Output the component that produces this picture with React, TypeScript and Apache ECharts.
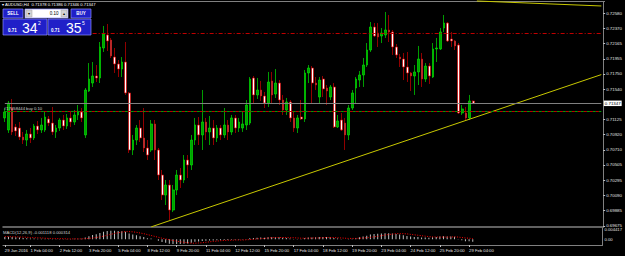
import React, { useEffect, useRef } from 'react';
import * as echarts from 'echarts';

// [open, close, low, high] for each H4 bar
const candles: number[][] = [
  [0.71147, 0.71229, 0.71092, 0.71283],
  [0.70983, 0.71351, 0.70942, 0.71379],
  [0.71283, 0.70956, 0.70915, 0.71406],
  [0.71024, 0.70969, 0.70901, 0.71065],
  [0.71010, 0.70887, 0.70846, 0.71092],
  [0.70887, 0.70846, 0.70792, 0.70956],
  [0.70846, 0.70928, 0.70764, 0.70983],
  [0.70928, 0.70874, 0.70805, 0.71010],
  [0.70874, 0.71037, 0.70846, 0.71065],
  [0.71037, 0.70983, 0.70928, 0.71106],
  [0.70983, 0.71051, 0.70942, 0.71147],
  [0.70983, 0.71160, 0.70956, 0.71229],
  [0.71133, 0.71078, 0.71037, 0.71174],
  [0.71078, 0.70956, 0.70915, 0.71297],
  [0.70956, 0.71010, 0.70874, 0.71051],
  [0.71010, 0.71119, 0.70969, 0.71147],
  [0.71119, 0.71037, 0.70983, 0.71188],
  [0.71037, 0.71147, 0.70997, 0.71201],
  [0.71147, 0.71092, 0.71024, 0.71229],
  [0.71092, 0.71188, 0.71051, 0.71256],
  [0.71188, 0.71229, 0.71119, 0.71324],
  [0.71229, 0.71147, 0.71092, 0.71283],
  [0.70915, 0.71529, 0.70874, 0.71556],
  [0.71515, 0.71679, 0.71502, 0.71897],
  [0.71624, 0.71720, 0.71570, 0.71911],
  [0.71720, 0.71693, 0.71638, 0.71870],
  [0.71693, 0.72116, 0.71624, 0.72184],
  [0.72102, 0.72293, 0.72048, 0.72403],
  [0.72280, 0.72198, 0.72061, 0.72430],
  [0.72211, 0.71993, 0.71966, 0.72239],
  [0.71979, 0.71884, 0.71761, 0.72102],
  [0.71884, 0.71815, 0.71706, 0.71938],
  [0.71815, 0.71911, 0.71706, 0.71979],
  [0.71911, 0.71488, 0.71461, 0.72184],
  [0.71488, 0.70710, 0.70669, 0.71502],
  [0.70710, 0.70846, 0.70641, 0.70915],
  [0.70846, 0.71010, 0.70778, 0.71051],
  [0.71010, 0.70874, 0.70819, 0.71119],
  [0.70874, 0.70737, 0.70682, 0.71283],
  [0.70737, 0.70641, 0.70573, 0.70846],
  [0.70710, 0.71065, 0.70682, 0.71119],
  [0.71065, 0.70710, 0.70573, 0.71119],
  [0.70710, 0.70368, 0.70300, 0.70737],
  [0.70368, 0.70095, 0.70027, 0.70437],
  [0.70095, 0.70232, 0.69959, 0.70300],
  [0.70232, 0.69890, 0.69754, 0.70300],
  [0.69890, 0.70164, 0.69863, 0.70232],
  [0.70164, 0.70368, 0.70095, 0.70437],
  [0.70368, 0.70300, 0.70191, 0.70464],
  [0.70300, 0.70573, 0.70259, 0.70641],
  [0.70573, 0.70505, 0.70327, 0.70641],
  [0.70505, 0.70846, 0.70437, 0.70915],
  [0.70846, 0.71051, 0.70778, 0.71147],
  [0.71051, 0.70915, 0.70778, 0.71160],
  [0.70915, 0.71092, 0.70710, 0.71529],
  [0.71092, 0.70956, 0.70846, 0.71147],
  [0.70956, 0.71010, 0.70778, 0.71174],
  [0.71010, 0.70874, 0.70778, 0.71119],
  [0.70874, 0.71010, 0.70819, 0.71051],
  [0.71010, 0.70915, 0.70846, 0.71051],
  [0.70915, 0.71051, 0.70874, 0.71283],
  [0.71051, 0.70956, 0.70846, 0.71119],
  [0.70956, 0.71147, 0.70915, 0.71188],
  [0.71147, 0.71010, 0.70942, 0.71188],
  [0.71010, 0.71092, 0.70956, 0.71147],
  [0.71010, 0.71065, 0.70956, 0.71229],
  [0.71051, 0.71324, 0.70983, 0.71392],
  [0.71078, 0.71679, 0.71051, 0.71706],
  [0.71693, 0.71461, 0.71351, 0.71720],
  [0.71461, 0.71529, 0.71406, 0.71693],
  [0.71529, 0.71447, 0.71379, 0.71652],
  [0.71447, 0.71351, 0.71283, 0.71502],
  [0.71351, 0.71638, 0.71297, 0.71775],
  [0.71652, 0.71461, 0.71351, 0.71775],
  [0.71474, 0.71624, 0.71420, 0.71815],
  [0.71624, 0.71392, 0.71324, 0.71665],
  [0.71392, 0.71256, 0.71188, 0.71461],
  [0.71256, 0.71365, 0.71188, 0.71420],
  [0.71365, 0.71147, 0.71092, 0.71392],
  [0.71147, 0.71010, 0.70956, 0.71229],
  [0.71010, 0.71147, 0.70942, 0.71188],
  [0.71160, 0.71133, 0.71119, 0.71392],
  [0.71133, 0.71761, 0.71092, 0.71802],
  [0.71761, 0.71829, 0.71624, 0.71870],
  [0.71829, 0.71624, 0.71351, 0.71856],
  [0.71624, 0.71597, 0.71529, 0.71706],
  [0.71433, 0.71665, 0.71351, 0.71706],
  [0.71679, 0.71543, 0.71433, 0.71720],
  [0.71556, 0.71515, 0.71324, 0.71597],
  [0.71433, 0.71570, 0.71392, 0.71597],
  [0.71570, 0.71024, 0.71010, 0.71624],
  [0.71024, 0.71106, 0.71010, 0.71188],
  [0.71119, 0.70983, 0.70969, 0.71215],
  [0.71078, 0.70915, 0.70710, 0.71147],
  [0.70915, 0.71283, 0.70846, 0.71324],
  [0.71283, 0.71488, 0.71256, 0.71529],
  [0.71556, 0.71679, 0.71351, 0.71706],
  [0.71665, 0.71734, 0.71570, 0.71788],
  [0.71734, 0.71870, 0.71570, 0.71966],
  [0.71870, 0.72075, 0.71843, 0.72170],
  [0.72075, 0.72389, 0.72048, 0.72457],
  [0.72389, 0.72266, 0.72252, 0.72443],
  [0.72307, 0.72252, 0.72116, 0.72443],
  [0.72266, 0.72307, 0.72170, 0.72375],
  [0.72280, 0.72348, 0.72239, 0.72594],
  [0.72348, 0.72321, 0.72184, 0.72553],
  [0.72321, 0.72116, 0.72007, 0.72348],
  [0.72116, 0.72007, 0.71966, 0.72157],
  [0.71979, 0.71952, 0.71843, 0.72020],
  [0.71952, 0.71843, 0.71665, 0.72034],
  [0.71843, 0.71761, 0.71638, 0.72048],
  [0.71761, 0.71720, 0.71515, 0.71775],
  [0.71720, 0.71775, 0.71461, 0.71870],
  [0.71775, 0.71952, 0.71597, 0.72130],
  [0.71952, 0.71679, 0.71570, 0.72034],
  [0.71679, 0.71856, 0.71638, 0.71897],
  [0.71856, 0.71720, 0.71611, 0.71897],
  [0.71706, 0.72089, 0.71693, 0.72170],
  [0.72089, 0.72102, 0.71911, 0.72239],
  [0.72089, 0.72321, 0.72075, 0.72375],
  [0.72375, 0.72443, 0.72321, 0.72553],
  [0.72443, 0.72198, 0.72184, 0.72457],
  [0.72225, 0.72198, 0.72116, 0.72321],
  [0.72198, 0.72130, 0.72075, 0.72211],
  [0.72143, 0.71215, 0.71201, 0.72170],
  [0.71215, 0.71270, 0.71188, 0.71324],
  [0.71215, 0.71147, 0.71119, 0.71297],
  [0.71147, 0.71379, 0.71119, 0.71461],
  [0.71378, 0.71347, 0.71346, 0.71386],
];

const macdMain: number[] = [
  0.0010, 0.0011, 0.0010, 0.0009, 0.0008, 0.0006, 0.0005, 0.0004,
  0.0004, 0.0003, 0.0003, 0.0003, 0.0003, 0.0002, 0.0002, 0.0002,
  0.0002, 0.0002, 0.0002, 0.0003, 0.0003, 0.0003,
  0.0008, 0.0014, 0.0019, 0.0022, 0.0028, 0.0034, 0.0037, 0.0038, 0.0038, 0.0037, 0.0036, 0.0033, 0.0026,
  0.0021, 0.0018, 0.0014, 0.0010, 0.0005, 0.0004, 0.0000, -0.0006, -0.0012, -0.0015, -0.0020,
  -0.0021, -0.0021, -0.0021, -0.0019, -0.0018, -0.0015, -0.0011, -0.0010, -0.0007,
  -0.0006, -0.0005, -0.0005, -0.0004, -0.0004, -0.0003, -0.0003, -0.0002, -0.0002, -0.0002, -0.0001,
  0.0001, 0.0005, 0.0006, 0.0007, 0.0008, 0.0007, 0.0009, 0.0009, 0.0010, 0.0009, 0.0007, 0.0006, 0.0004, 0.0002, 0.0001,
  0.0001, 0.0005, 0.0008, 0.0008, 0.0009, 0.0010, 0.0010, 0.0010, 0.0010, 0.0006, 0.0004, 0.0002, 0.0000, 0.0001, 0.0003, 0.0006, 0.0009, 0.0012, 0.0016,
  0.0021, 0.0023, 0.0025, 0.0026, 0.0027, 0.0027, 0.0026, 0.0024, 0.0021, 0.0018, 0.0015, 0.0012,
  0.0010, 0.0010, 0.0008, 0.0008, 0.0007, 0.0009, 0.0010, 0.0012, 0.0014, 0.0013, 0.0012, 0.0011, 0.0002, -0.0004, -0.0008, -0.0009, -0.0011,
];

const macdSignal: number[] = [
  0.0012, 0.0012, 0.0011, 0.0011, 0.0010, 0.0010, 0.0009, 0.0008, 0.0007, 0.0007, 0.0006,
  0.0005, 0.0004, 0.0004, 0.0003, 0.0003, 0.0003, 0.0002, 0.0002, 0.0002, 0.0002, 0.0002,
  0.0003, 0.0004, 0.0006, 0.0008, 0.0011, 0.0014, 0.0018, 0.0022, 0.0026, 0.0029, 0.0032, 0.0034, 0.0034,
  0.0033, 0.0031, 0.0028, 0.0025, 0.0021, 0.0017, 0.0013, 0.0009, 0.0005, 0.0002, -0.0002,
  -0.0005, -0.0008, -0.0011, -0.0013, -0.0015, -0.0017, -0.0017, -0.0016, -0.0015,
  -0.0013, -0.0011, -0.0009, -0.0008, -0.0006, -0.0005, -0.0004, -0.0004, -0.0003, -0.0003, -0.0003,
  -0.0002, -0.0001, 0.0000, 0.0002, 0.0003, 0.0004, 0.0006, 0.0007, 0.0008, 0.0008, 0.0008, 0.0008, 0.0007, 0.0007, 0.0006,
  0.0005, 0.0005, 0.0005, 0.0006, 0.0006, 0.0006, 0.0007, 0.0008, 0.0008, 0.0008, 0.0007, 0.0006, 0.0005, 0.0004, 0.0004, 0.0004, 0.0005, 0.0006, 0.0007,
  0.0009, 0.0011, 0.0013, 0.0016, 0.0019, 0.0021, 0.0023, 0.0025, 0.0025, 0.0025, 0.0024, 0.0022,
  0.0020, 0.0018, 0.0016, 0.0014, 0.0012, 0.0011, 0.0010, 0.0010, 0.0010, 0.0010, 0.0010, 0.0011, 0.0010, 0.0008, 0.0006, 0.0005, 0.0003,
];

const priceTicks = [0.69675, 0.69885, 0.7009, 0.70295, 0.70505, 0.7071, 0.7092, 0.71125, 0.7154, 0.7175, 0.71955, 0.72165, 0.7237, 0.7258];
const macdTicks = [0.004417, 0, -0.002518];
const tickBars = [0, 7, 15, 23, 31, 39, 47, 55, 63, 71, 79, 87, 95, 103, 111, 119, 127];
const tickTexts = ['29 Jan 2016', '1 Feb 04:00', '2 Feb 12:00', '3 Feb 20:00', '5 Feb 04:00', '8 Feb 12:00', '9 Feb 20:00', '11 Feb 04:00', '12 Feb 12:00', '15 Feb 20:00', '17 Feb 04:00', '18 Feb 12:00', '19 Feb 20:00', '23 Feb 04:00', '24 Feb 12:00', '25 Feb 20:00', '29 Feb 04:00'];

const lastPrice = 0.71347;
const resistanceLevel = 0.72307;
const orderLevel = 0.71233;
const trendLine = [[40, 0.6966], [163, 0.71739]];
const upperLine = [[129, 0.72744], [163, 0.72676]];

const SLOTS = 164;
const FONT = 'Liberation Sans, Arial, sans-serif';

export default function App() {
  const ref = useRef<HTMLDivElement>(null);
  useEffect(() => {
    document.body.style.margin = '0';
    document.body.style.background = '#000';
    const chart = echarts.init(ref.current!, null, { renderer: 'svg' });
    const cats = Array.from({ length: SLOTS }, (_, i) => String(i));
    const lastSlot = SLOTS - 1;
    const white = '#ffffff';
    const panelBlue = '#2020c8';
    const panelEdge = '#8c8cff';
    chart.setOption({
      animation: false,
      backgroundColor: '#000000',
      textStyle: { fontFamily: FONT },
      grid: [
        { left: 3, right: 20, top: 2, height: 225 },
        { left: 3, right: 20, top: 228, height: 17 },
      ],
      xAxis: [
        {
          type: 'category', gridIndex: 0, data: cats, boundaryGap: true,
          axisLine: { show: true, onZero: false, lineStyle: { color: '#808080', width: 1.5 } },
          axisTick: { show: false }, axisLabel: { show: false }, splitLine: { show: false },
        },
        {
          type: 'category', gridIndex: 1, data: cats, boundaryGap: true,
          axisLine: { show: true, onZero: false, lineStyle: { color: '#808080' } },
          axisTick: { show: true, alignWithLabel: true, length: 2, interval: (i: number) => tickBars.includes(i), lineStyle: { color: '#c0c0c0' } },
          axisLabel: {
            show: true, interval: (i: number) => tickBars.includes(i),
            formatter: (_v: string, i: number) => tickTexts[tickBars.indexOf(i)] ?? '',
            color: '#e0e0e0', fontSize: 4.2, align: 'left', margin: 3, fontFamily: FONT,
          },
          splitLine: { show: false },
        },
      ],
      yAxis: [
        {
          type: 'value', gridIndex: 0, position: 'right', min: 0.696585, max: 0.727302,
          axisLine: { show: true, lineStyle: { color: '#808080' } },
          axisTick: { show: true, length: 2, customValues: priceTicks, lineStyle: { color: '#c0c0c0' } },
          axisLabel: { show: true, customValues: priceTicks, formatter: (v: number) => v.toFixed(5), color: '#e0e0e0', fontSize: 4.4, margin: 3, fontFamily: FONT },
          splitLine: { show: false },
        },
        {
          type: 'value', gridIndex: 1, position: 'right', min: -0.0025, max: 0.005,
          axisLine: { show: true, lineStyle: { color: '#808080' } },
          axisTick: { show: false },
          axisLabel: { show: true, customValues: macdTicks, formatter: (v: number) => (v === 0 ? '0.00' : v.toFixed(6)), color: '#e0e0e0', fontSize: 4.2, margin: 2, fontFamily: FONT },
          splitLine: { show: false },
        },
      ],
      series: [
        {
          type: 'candlestick', xAxisIndex: 0, yAxisIndex: 0, data: candles, barWidth: 2.2,
          itemStyle: { color: '#00a000', color0: '#ffffff', borderColor: '#00e000', borderColor0: '#d00000', borderWidth: 0.7 },
          markLine: {
            silent: true, symbol: ['none', 'none'], animation: false,
            label: { show: false },
            data: [
              [
                { coord: [0, orderLevel], lineStyle: { color: '#00a000', type: [3, 3], width: 1 } },
                { coord: [lastSlot, orderLevel] },
              ],
              [
                { coord: [0, orderLevel], lineStyle: { color: '#c00000', type: [3, 3], dashOffset: 3, width: 1 } },
                { coord: [lastSlot, orderLevel] },
              ],
              [
                { coord: [24, resistanceLevel], lineStyle: { color: '#c00000', type: [4, 2, 1, 2], width: 1 } },
                { coord: [lastSlot, resistanceLevel] },
              ],
              [
                { coord: [0, lastPrice], lineStyle: { color: '#808080', type: 'solid', width: 1 } },
                {
                  coord: [lastSlot, lastPrice],
                  label: { show: true, position: 'end', distance: 2.5, formatter: lastPrice.toFixed(5), backgroundColor: '#ffffff', color: '#000000', fontSize: 4.4, padding: [1, 1, 0.5, 1], fontFamily: FONT },
                },
              ],
            ],
          },
        },
        {
          type: 'line', xAxisIndex: 0, yAxisIndex: 0, data: trendLine, symbol: 'none',
          lineStyle: { color: '#c8c800', width: 1 }, silent: true,
        },
        {
          type: 'line', xAxisIndex: 0, yAxisIndex: 0, data: upperLine, symbol: 'none', clip: false,
          lineStyle: { color: '#c8c800', width: 1 }, silent: true,
        },
        {
          type: 'bar', xAxisIndex: 1, yAxisIndex: 1, data: macdMain, barWidth: 1,
          itemStyle: { color: '#c0c0c0' }, silent: true,
        },
        {
          type: 'line', xAxisIndex: 1, yAxisIndex: 1, data: macdSignal, symbol: 'none',
          lineStyle: { color: '#ff0000', width: 1, type: [1, 1.5] }, silent: true,
        },
      ],
      graphic: [
        { type: 'line', shape: { x1: 0, y1: 1.5, x2: 605, y2: 1.5 }, style: { stroke: '#808080', lineWidth: 1 }, z: 1 },
        { type: 'text', left: 2, top: 2.5, style: { text: '▾ AUDUSD,H4  0.71378 0.71386 0.71346 0.71347', fill: white, fontSize: 4.2, fontFamily: FONT } },
        { type: 'text', left: 4, top: 106, style: { text: '#17058444 buy 0.10', fill: '#d0d0d0', fontSize: 4.2, fontFamily: FONT }, z: 20 },
        { type: 'text', left: 3, top: 230, style: { text: 'MACD(12,26,9) -0.001118 0.000314', fill: '#d0d0d0', fontSize: 4.2, fontFamily: FONT }, z: 20 },
        // one-click trading panel
        { type: 'rect', shape: { x: 3, y: 9, width: 20, height: 9 }, style: { fill: panelBlue, stroke: panelEdge, lineWidth: 0.7 }, z: 30 },
        { type: 'text', x: 13, y: 13.8, style: { text: 'SELL', fill: white, fontSize: 4.5, fontWeight: 'bold', align: 'center', verticalAlign: 'middle', fontFamily: FONT }, z: 31 },
        { type: 'rect', shape: { x: 25, y: 9, width: 43, height: 9 }, style: { fill: '#ffffff', stroke: panelEdge, lineWidth: 0.7 }, z: 30 },
        { type: 'rect', shape: { x: 26, y: 10, width: 6, height: 7 }, style: { fill: '#d4d4d4', stroke: '#a0a0a0', lineWidth: 0.5 }, z: 31 },
        { type: 'text', x: 29, y: 13.5, style: { text: '▾', fill: '#000', fontSize: 4, align: 'center', verticalAlign: 'middle', fontFamily: FONT }, z: 32 },
        { type: 'rect', shape: { x: 61, y: 10, width: 6, height: 7 }, style: { fill: '#d4d4d4', stroke: '#a0a0a0', lineWidth: 0.5 }, z: 31 },
        { type: 'text', x: 64, y: 13.5, style: { text: '▴', fill: '#000', fontSize: 4, align: 'center', verticalAlign: 'middle', fontFamily: FONT }, z: 32 },
        { type: 'text', x: 54, y: 13.8, style: { text: '0.10', fill: '#000', fontSize: 4.5, align: 'center', verticalAlign: 'middle', fontFamily: FONT }, z: 31 },
        { type: 'rect', shape: { x: 71, y: 9, width: 20, height: 9 }, style: { fill: panelBlue, stroke: panelEdge, lineWidth: 0.7 }, z: 30 },
        { type: 'text', x: 81, y: 13.8, style: { text: 'BUY', fill: white, fontSize: 4.5, fontWeight: 'bold', align: 'center', verticalAlign: 'middle', fontFamily: FONT }, z: 31 },
        { type: 'rect', shape: { x: 3, y: 19, width: 44, height: 16 }, style: { fill: panelBlue, stroke: panelEdge, lineWidth: 0.7 }, z: 30 },
        { type: 'rect', shape: { x: 48, y: 19, width: 43, height: 16 }, style: { fill: panelBlue, stroke: panelEdge, lineWidth: 0.7 }, z: 30 },
        { type: 'text', x: 8, y: 30, style: { text: '0.71', fill: white, fontSize: 4.5, fontWeight: 'bold', verticalAlign: 'middle', fontFamily: FONT }, z: 31 },
        { type: 'text', x: 22, y: 27.5, style: { text: '34', fill: white, fontSize: 14, verticalAlign: 'middle', fontFamily: FONT }, z: 31 },
        { type: 'text', x: 38, y: 23, style: { text: '2', fill: white, fontSize: 5, verticalAlign: 'middle', fontFamily: FONT }, z: 31 },
        { type: 'text', x: 51, y: 30, style: { text: '0.71', fill: white, fontSize: 4.5, fontWeight: 'bold', verticalAlign: 'middle', fontFamily: FONT }, z: 31 },
        { type: 'text', x: 66, y: 27.5, style: { text: '35', fill: white, fontSize: 14, verticalAlign: 'middle', fontFamily: FONT }, z: 31 },
        { type: 'text', x: 82, y: 23, style: { text: '5', fill: white, fontSize: 5, verticalAlign: 'middle', fontFamily: FONT }, z: 31 },
      ],
    });
    return () => chart.dispose();
  }, []);
  return <div ref={ref} style={{ width: 625, height: 256, background: '#000' }} />;
}
